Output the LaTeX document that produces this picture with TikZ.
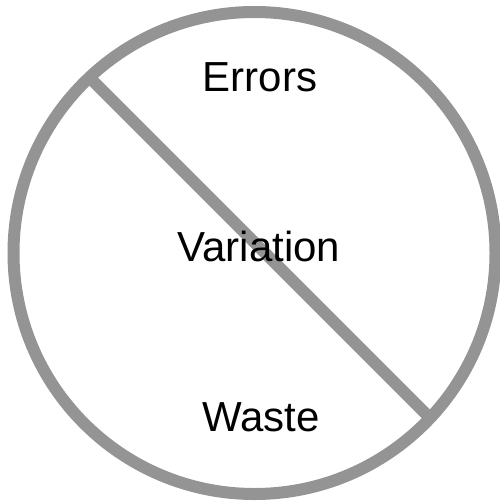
\documentclass[tikz,border=0pt]{standalone}
\usepackage{fontspec}
\setmainfont{Liberation Sans}
\definecolor{ringgray}{HTML}{949494}
\begin{document}
\begin{tikzpicture}[x=1pt,y=-1pt,
  ring/.style={draw=ringgray,line width=12pt},
  lbl/.style={font=\fontsize{42}{48}\selectfont,text=black,inner sep=0pt}]
\useasboundingbox (0,0) rectangle (499,503);
\node[circle,ring,minimum size=482pt,inner sep=0pt] (c) at (254.5,253) {};
\coordinate (a) at (89.4,77.4);
\coordinate (b) at (430.1,418.1);
\draw[ringgray,line width=12pt] (a) -- (b);
\node[lbl] (e) at (260,77) {Errors};
\node[lbl] (v) at (259,246) {Variation};
\node[lbl] (w) at (261,417) {Waste};
\end{tikzpicture}
\end{document}
